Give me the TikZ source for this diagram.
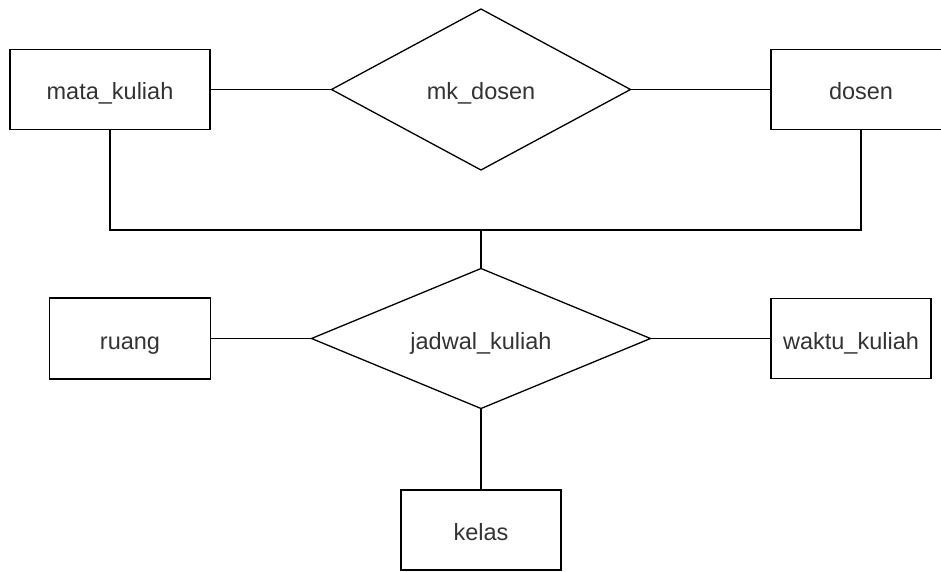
\documentclass[tikz,border=0pt]{standalone}
\usepackage{fontspec}
\setmainfont{Liberation Sans}
\usetikzlibrary{shapes.geometric}
\definecolor{txt}{HTML}{333333}
\begin{document}
\begin{tikzpicture}[x=1pt,y=-1pt,
  lbl/.style={text=txt,font=\fontsize{23.5}{28}\selectfont,text height=21pt,text depth=0pt},
  ent/.style={lbl,draw=black,line width=1.3pt,rectangle,inner sep=0pt,outer sep=0pt},
  rel/.style={lbl,draw=black,line width=1.3pt,diamond,inner sep=0pt,outer sep=0pt},
  conn/.style={draw=black,line width=1.3pt}]
\useasboundingbox (0,0) rectangle (941,572);
\clip (0,0) rectangle (941,572);
\node[ent,minimum width=200pt,minimum height=80pt] (mk) at (110,89.5) {mata\_kuliah};
\node[rel,aspect=1.86,minimum width=299pt,minimum height=161pt] (mkd) at (481,89.5) {mk\_dosen};
\node[ent,minimum width=180pt,minimum height=80pt] (ds) at (861,89.5) {dosen};
\node[rel,aspect=2.42,minimum width=339pt,minimum height=140pt] (jk) at (481,338.5) {jadwal\_kuliah};
\node[ent,minimum width=161pt,minimum height=81pt] (ru) at (130,338.5) {ruang};
\node[ent,minimum width=160pt,minimum height=80pt] (wk) at (851,338.5) {waktu\_kuliah};
\node[ent,minimum width=160pt,minimum height=80pt] (kl) at (481,530) {kelas};
\coordinate (j) at (481,230);
\draw[conn] (mk.east) -- (mkd.west);
\draw[conn] (mkd.east) -- (ds.west);
\draw[conn] (mk.south) |- (j) -| (ds.south);
\draw[conn] (j) -- (jk.north);
\draw[conn] (ru.east) -- (jk.west);
\draw[conn] (jk.east) -- (wk.west);
\draw[conn] (jk.south) -- (kl.north);
\end{tikzpicture}
\end{document}
